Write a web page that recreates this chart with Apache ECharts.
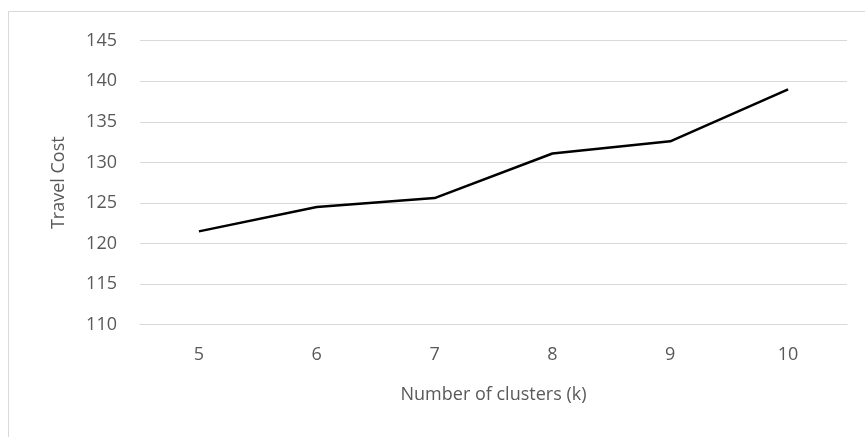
<!DOCTYPE html>
<html>
<head>
<meta charset="utf-8">
<script src="https://cdn.jsdelivr.net/npm/echarts@6/dist/echarts.min.js"></script>
<style>
html,body{margin:0;padding:0;background:#fff;}
#chart{width:865px;height:437px;}
</style>
</head>
<body>
<div id="chart"></div>
<script>
const categories = ['5', '6', '7', '8', '9', '10'];
const travelCost = [121.5, 124.5, 125.6, 131.1, 132.6, 139.0];
const yMin = 110, yMax = 145, yInterval = 5;
const xName = 'Number of clusters (k)';
const yName = 'Travel Cost';

const chart = echarts.init(document.getElementById('chart'), null, {renderer: 'canvas'});
const font = '"Open Sans", "Noto Sans", sans-serif';
chart.setOption({
  animation: false,
  backgroundColor: '#ffffff',
  graphic: [{
    type: 'rect',
    shape: {x: 8.5, y: 11.5, width: 900, height: 500},
    style: {fill: 'none', stroke: '#d9d9d9', lineWidth: 1},
    silent: true,
    z: -1
  }],
  grid: {left: 140, right: 18, top: 40.7, bottom: 112.3, containLabel: false},
  xAxis: {
    type: 'category',
    data: categories,
    boundaryGap: true,
    name: xName,
    nameLocation: 'middle',
    nameGap: 61,
    nameTextStyle: {color: '#595959', fontSize: 18, fontFamily: font},
    axisLine: {show: true, lineStyle: {color: '#d9d9d9', width: 1.2}},
    axisTick: {show: false},
    axisLabel: {color: '#595959', fontSize: 18, fontFamily: font, margin: 21},
    splitLine: {show: false}
  },
  yAxis: {
    type: 'value',
    min: yMin,
    max: yMax,
    interval: yInterval,
    name: yName,
    nameLocation: 'middle',
    nameGap: 72,
    nameRotate: 90,
    nameTextStyle: {color: '#595959', fontSize: 18, fontFamily: font},
    axisLine: {show: false},
    axisTick: {show: false},
    axisLabel: {color: '#595959', fontSize: 18, fontFamily: font, margin: 23},
    splitLine: {show: true, lineStyle: {color: '#d9d9d9', width: 1.2}}
  },
  series: [{
    type: 'line',
    data: travelCost,
    showSymbol: false,
    symbol: 'none',
    lineStyle: {color: '#000000', width: 2.5},
    itemStyle: {color: '#000000'}
  }]
});
</script>
</body>
</html>
